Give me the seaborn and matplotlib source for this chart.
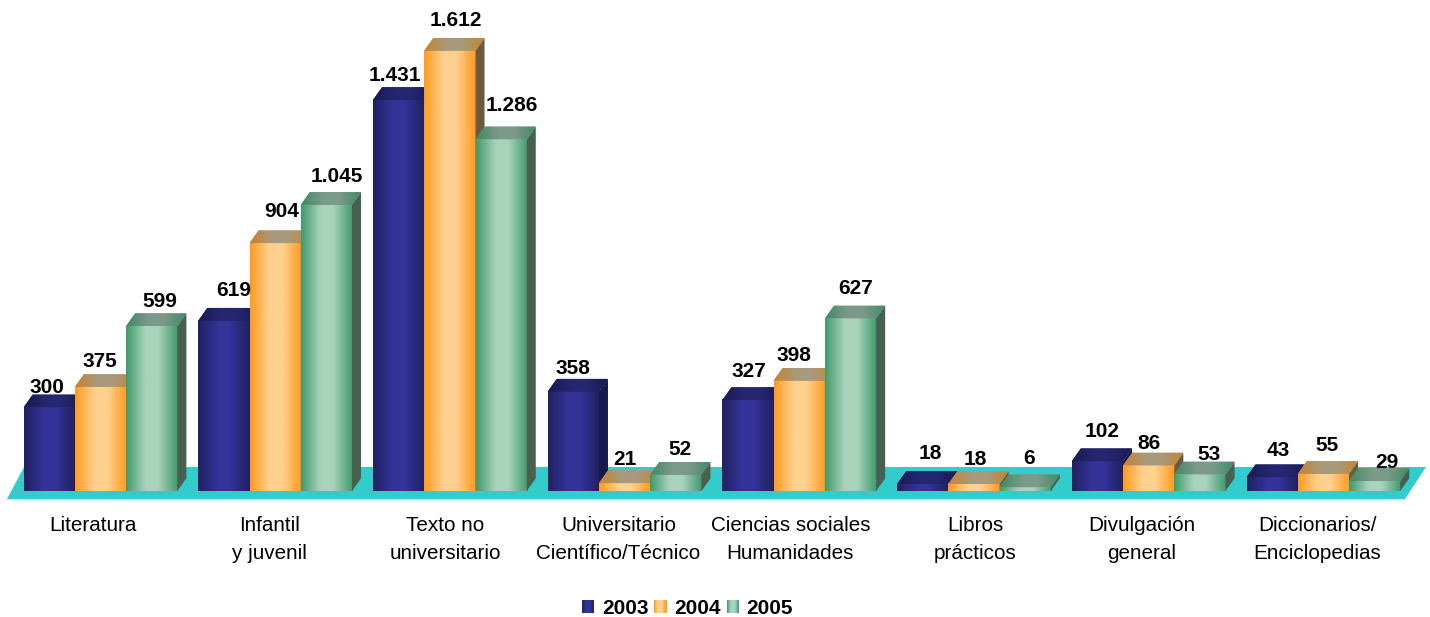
import numpy as np
import pandas as pd
import matplotlib
matplotlib.use("Agg")
import matplotlib.pyplot as plt
from matplotlib.colors import LinearSegmentedColormap, to_rgb
from matplotlib.legend_handler import HandlerBase
from matplotlib.patches import Polygon, Rectangle
from matplotlib.transforms import IdentityTransform, ScaledTranslation
import seaborn as sns

# ---- data ----
categories = ["Literatura", "Infantil\ny juvenil", "Texto no\nuniversitario",
              "Universitario\nCientífico/Técnico", "Ciencias sociales\nHumanidades",
              "Libros\nprácticos", "Divulgación\ngeneral", "Diccionarios/\nEnciclopedias"]
years = ["2003", "2004", "2005"]
v2003 = [300, 619, 1431, 358, 327, 18, 102, 43]
v2004 = [375, 904, 1612, 21, 398, 18, 86, 55]
v2005 = [599, 1045, 1286, 52, 627, 6, 53, 29]

# ---- styling ----
FRONT = {"2003": ("#20205f", "#333399"), "2004": ("#ff9a1f", "#ffd18f"), "2005": ("#3f9a6a", "#a9d4bc")}
TOP = {"2003": ("#1a1a52", "#262670"), "2004": ("#c8842f", "#a89a7c"), "2005": ("#3f8a66", "#7c9a8a")}
SIDE = {"2003": "#18184a", "2004": "#6b5a40", "2005": "#47604f"}
FLOOR = "#33cccc"
W, H = 1430, 617
BASE_PX, PX_PER_UNIT = 488.85, 0.2718
GROUP_PX, FIRST_PX = 174.7, 100.5
DEPTH_X, DEPTH_Y = 9.0, 12.7
# hand-placed label nudges in pixels, relative to bar centre / bar top
LABEL_DX = [-2, -1, 8, 10, 6, 10, -4, 6, 11, 0, 0, 4, 1, -5, 5, 8, 1, 4, 5, 0, 9, 6, 4, 12]
LABEL_DY = [20, 25, 25, 30, 32, 28, 24, 30, 34, 23, 24, 25, 28, 25, 30, 30, 24, 29, 30, 22, 20, 27, 28, 18]
TICK_DX = [-8, -6, -5, -6, -9, 1, -7, -6]

sns.set_style("white")
plt.rcParams["font.family"] = ["Liberation Sans", "DejaVu Sans"]

df = pd.DataFrame({"categoria": categories * 3,
                   "anio": np.repeat(years, len(categories)),
                   "valor": v2003 + v2004 + v2005})

fig = plt.figure(figsize=(W / 100, H / 100), dpi=100, facecolor="white")
ax = fig.add_axes([0, (H - 491) / H, 1, 491 / H])
sns.barplot(data=df, x="categoria", y="valor", hue="anio", order=categories, hue_order=years,
            palette=[FRONT[y][1] for y in years], width=0.88, gap=0, dodge=True,
            errorbar=None, legend=False, linewidth=0, saturation=1, ax=ax)

y_under = -(491 - BASE_PX) / PX_PER_UNIT
ax.set_xlim(-FIRST_PX / GROUP_PX, (W - FIRST_PX) / GROUP_PX)
ax.set_ylim(y_under, BASE_PX / PX_PER_UNIT)
ax.set_autoscale_on(False)
ax.set_xlabel("")
ax.set_ylabel("")
ax.set_yticks([])
sns.despine(ax=ax, left=True, bottom=True)
ax.patch.set_alpha(0)

# teal floor, in pixel coordinates
floor_px = [(24, 467), (1426, 467), (1405, 499), (7, 499)]
ax.add_patch(Polygon([(x, H - y) for x, y in floor_px], closed=True, facecolor=FLOOR,
                     edgecolor="none", transform=IdentityTransform(), zorder=0.5, clip_on=False))
ax.plot([7, 1405], [H - 499.3, H - 499.3], color="#bdeeee", lw=1, transform=IdentityTransform(),
        zorder=0.4, clip_on=False)


def ramp(name, left, mid):
    return LinearSegmentedColormap.from_list(name, [(0, left), (0.38, mid), (0.62, mid), (1, left)])


dx = DEPTH_X / GROUP_PX
dy = DEPTH_Y / PX_PER_UNIT
grad = np.linspace(0, 1, 256).reshape(1, -1)
bars = sorted([p for p in ax.patches if isinstance(p, Rectangle)], key=lambda p: p.get_x())
series = [y for _ in categories for y in years]

for i, (bar, yr) in enumerate(zip(bars, series)):
    z = 2 + i
    x0, w, h = bar.get_x(), bar.get_width(), bar.get_height()
    x1, top = x0 + w, h
    bar.set_y(y_under)
    bar.set_height(h - y_under)
    bar.set_zorder(z)
    bar.set_linewidth(0)
    ax.imshow(grad, extent=(x0, x1, y_under, top), aspect="auto", origin="lower",
              cmap=ramp(f"f{yr}", *FRONT[yr]), interpolation="bilinear", zorder=z + 0.1)
    top_face = Polygon([(x0, top), (x1, top), (x1 + dx, top + dy), (x0 + dx, top + dy)],
                       closed=True, facecolor=TOP[yr][1], edgecolor="none", zorder=z + 0.2)
    ax.add_patch(top_face)
    im = ax.imshow(grad, extent=(x0, x1 + dx, top, top + dy), aspect="auto", origin="lower",
                   cmap=ramp(f"t{yr}", *TOP[yr]), interpolation="bilinear", zorder=z + 0.3)
    im.set_clip_path(top_face)
    ax.add_patch(Polygon([(x1, y_under), (x1 + dx, y_under + dy), (x1 + dx, top + dy), (x1, top)],
                         closed=True, facecolor=SIDE[yr], edgecolor="none", zorder=z + 0.2))
    ax.annotate(f"{int(round(h)):,}".replace(",", "."), xy=(x0 + w / 2, top),
                xytext=(LABEL_DX[i] * 0.72, LABEL_DY[i] * 0.72), textcoords="offset points",
                ha="center", va="center", fontsize=15, fontweight="bold", color="black",
                zorder=100, annotation_clip=False)

# category labels
ax.set_xticks(range(len(categories)))
ax.set_xticklabels(categories, fontsize=14.9, color="black", linespacing=1.62)
ax.tick_params(axis="x", length=0, pad=18, labelcolor="black")
for lab, off in zip(ax.get_xticklabels(), TICK_DX):
    lab.set_transform(lab.get_transform() + ScaledTranslation(off, 0, IdentityTransform()))


class GradientSquare(HandlerBase):
    def __init__(self, left, mid):
        super().__init__()
        self.left, self.mid = np.array(to_rgb(left)), np.array(to_rgb(mid))

    def create_artists(self, legend, orig_handle, xdescent, ydescent, width, height, fontsize, trans):
        n = 12
        out = []
        for k in range(n):
            t = 1 - abs((k + 0.5) / n - 0.5) * 2
            col = self.left + (self.mid - self.left) * min(1, t * 1.5)
            out.append(Rectangle((-xdescent + width * k / n, -ydescent), width / n + 0.2, height,
                                 facecolor=col, edgecolor="none", transform=trans))
        return out


handles = [Rectangle((0, 0), 1, 1, label=y) for y in years]
fig.legend(handles=handles, labels=years, ncols=3, frameon=False, loc="center",
           bbox_to_anchor=(687.5 / W, 1 - 608.5 / H),
           handler_map={h: GradientSquare(*FRONT[y]) for h, y in zip(handles, years)},
           prop={"size": 15, "weight": "bold"}, labelcolor="black", handlelength=0.58, handleheight=0.58,
           handletextpad=0.38, columnspacing=0.28, borderpad=0, borderaxespad=0)

fig.savefig("out.png", dpi=100, facecolor="white")
